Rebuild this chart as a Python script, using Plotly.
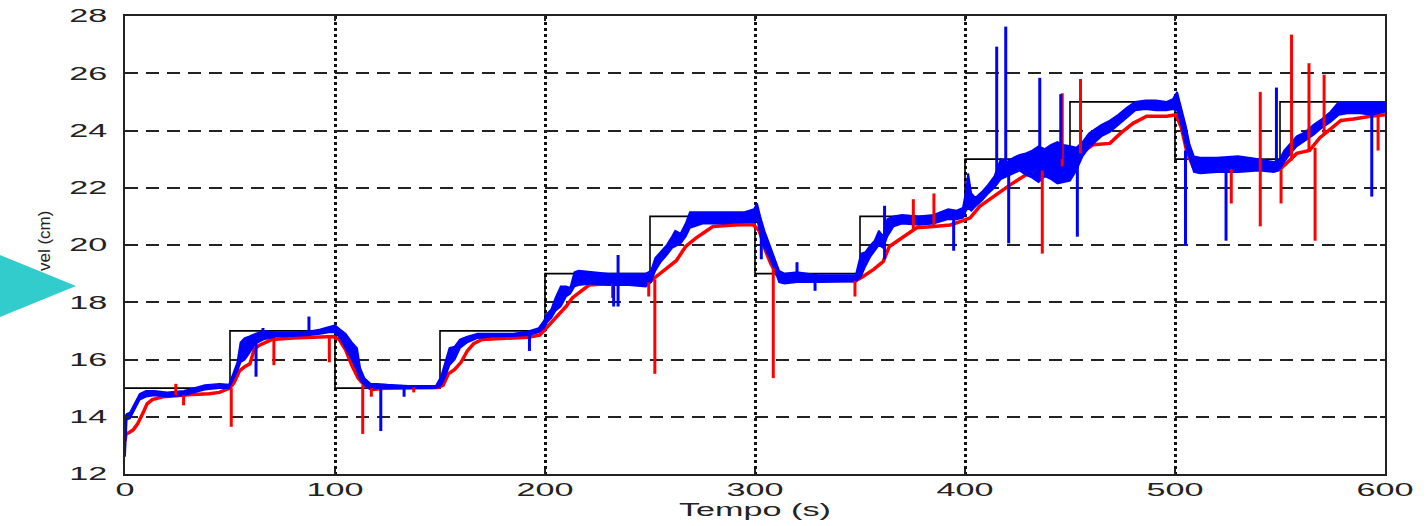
import plotly.graph_objects as go

# ---------------- data ----------------
x_ticks = [0, 100, 200, 300, 400, 500, 600]
y_ticks = [12, 14, 16, 18, 20, 22, 24, 26, 28]

# set-point (reference level, cm)
sp_t = [0, 50, 100, 150, 200, 250, 300, 350, 400, 450, 500, 550, 600]
sp_v = [15, 17, 15, 17, 19, 21, 19, 21, 23, 25, 23, 25, 25]

# red response (centre line)
red_t = [0, 0.5, 2, 4, 6, 7.5, 9, 10.5, 13, 18, 25, 32, 40, 45, 48, 50, 52, 54.5, 57, 59.5,
         61.5, 64, 67, 70, 80, 90, 99, 102, 105, 108, 111, 114, 118, 125, 140, 149, 151.5, 154,
         157, 160, 163, 166, 170, 180, 192, 197.5, 200, 203, 207, 210, 213, 218, 221, 230, 245,
         250, 253, 258, 262.5, 267, 272, 277, 280, 290, 299, 302, 305, 307.5, 310.5, 314, 330,
         348, 351.5, 356.5, 361, 364, 369, 374, 377, 385, 393, 399, 402.5, 407, 413.5, 421.5,
         429, 437, 445, 453, 461, 469, 474, 480, 486.5, 496, 500.5, 503, 505.5, 508.5, 515,
         530, 550, 553, 558, 564, 569, 574, 579, 585, 593, 600]
red_v = [13.15, 13.4, 13.45, 13.55, 13.75, 13.95, 14.2, 14.45, 14.6, 14.7, 14.75, 14.78, 14.8,
         14.85, 14.95, 15.0, 15.2, 15.6, 15.75, 15.85, 16.35, 16.5, 16.6, 16.7, 16.75, 16.78,
         16.8, 16.7, 16.35, 15.8, 15.35, 15.1, 14.95, 15.0, 15.02, 15.02, 15.1, 15.5, 15.65,
         15.9, 16.3, 16.55, 16.7, 16.75, 16.78, 16.85, 17.05, 17.3, 17.6, 17.85, 18.15, 18.45,
         18.6, 18.65, 18.68, 18.72, 18.9, 19.2, 19.45, 19.95, 20.25, 20.5, 20.65, 20.7, 20.72,
         20.5, 19.8, 19.35, 18.95, 18.8, 18.8, 18.75, 18.9, 19.15, 19.42, 19.95, 20.2, 20.45,
         20.6, 20.65, 20.7, 20.85, 20.95, 21.35, 21.7, 22.1, 22.45, 22.6, 22.75, 23.1, 23.5,
         23.55, 23.9, 24.25, 24.5, 24.5, 24.55, 24.1, 23.3, 22.75, 22.65, 22.65, 22.65, 22.85,
         23.2, 23.3, 23.75, 24.05, 24.35, 24.4, 24.5, 24.55]

# red spikes: time, low end, high end
red_spk_t = [24.2, 27.9, 50.6, 70.9, 97.3, 113.2, 117.3, 137.5, 232.2, 249.4, 252.3, 308.7,
             347.6, 375.4, 385.2, 436.8, 446.3, 455, 526.8, 540.6, 550.5, 555.5, 563.8, 566.7,
             571, 596.7]
red_spk_lo = [14.75, 14.4, 13.65, 15.8, 15.9, 13.4, 14.7, 14.85, 18.15, 18.2, 15.5, 15.35,
              18.2, 20.5, 20.65, 19.7, 22.75, 23.2, 21.45, 20.65, 21.45, 22.95, 23.3, 20.15,
              23.9, 23.3]
red_spk_hi = [15.15, 14.75, 15.0, 16.7, 16.8, 15.1, 15.0, 15.02, 18.65, 18.7, 18.8, 19.2,
              18.75, 21.6, 21.8, 22.6, 25.3, 25.8, 22.65, 25.35, 22.65, 27.35, 26.35, 23.4,
              25.95, 24.55]

# blue response: noisy band, lower / upper envelope
blue_t = [0, 0.8, 2.4, 4.8, 7, 10, 14, 20, 28, 33, 38, 45, 49.5, 51.5, 53.5, 55, 57, 59, 62,
          66, 72, 80, 88, 93, 97, 100, 102.4, 105, 108, 110.5, 112, 114, 117, 120, 125, 135,
          148, 150.5, 152.5, 154.5, 157, 159.5, 163, 168, 175, 185, 192, 197, 199.5, 201, 203,
          205, 207.5, 210, 212, 214, 216, 222, 230, 240, 248, 250.5, 252.5, 255, 258, 260.5,
          262, 264.5, 267, 269, 275, 285, 295, 299.5, 301, 302.5, 304.5, 307, 309.5, 311.5,
          314, 320, 330, 340, 348, 350.5, 352.5, 355, 357, 359, 361, 363, 366, 370, 378, 385,
          392, 396, 399, 400.5, 401.5, 403, 405, 408, 411, 414, 417, 420, 423, 426, 429, 432,
          435, 438, 441, 444, 447, 450, 453, 456, 459, 462, 465, 469, 473, 477, 481, 486, 491,
          496, 499, 501, 503, 505, 507, 509, 512, 520, 530, 540, 547, 549.5, 552, 555, 558,
          562, 566, 570, 574, 578, 582, 588, 594, 600]
blue_lo = [12.6, 13.9, 13.95, 14.3, 14.6, 14.7, 14.75, 14.7, 14.75, 14.85, 14.95, 15.0, 15.0,
           15.3, 15.6, 15.9, 16.0, 16.2, 16.55, 16.7, 16.8, 16.82, 16.85, 16.9, 16.95, 16.95,
           16.75, 16.4, 16.0, 15.6, 15.3, 15.1, 14.95, 15.0, 15.0, 15.0, 15.0, 15.1, 15.4, 15.8,
           16.0, 16.4, 16.6, 16.75, 16.8, 16.82, 16.85, 16.95, 17.1, 17.3, 17.45, 17.7, 17.85,
           18.2, 18.3, 18.55, 18.6, 18.65, 18.6, 18.6, 18.55, 18.7, 19.1, 19.4, 19.65, 19.9,
           19.95, 20.05, 20.3, 20.6, 20.75, 20.75, 20.8, 20.8, 20.9, 20.4, 19.9, 19.55, 19.1,
           18.7, 18.65, 18.7, 18.7, 18.7, 18.72, 18.9, 19.25, 19.6, 19.8, 20.0, 19.9, 20.3,
           20.65, 20.75, 20.7, 20.75, 20.9, 20.9, 20.95, 21.2, 21.3, 21.2, 21.35, 21.55, 21.8,
           22.0, 22.3, 22.4, 22.5, 22.6, 22.45, 22.35, 22.2, 22.4, 22.3, 22.15, 22.2, 22.25,
           22.6, 23.1, 23.4, 23.6, 23.8, 23.95, 24.2, 24.45, 24.7, 24.75, 24.7, 24.7, 24.75,
           24.7, 24.2, 23.5, 23.0, 22.55, 22.5, 22.55, 22.55, 22.6, 22.55, 22.6, 22.9, 23.2,
           23.45, 23.65, 23.85, 24.1, 24.3, 24.55, 24.6, 24.6, 24.55, 24.65]
blue_hi = [14.0, 14.1, 14.15, 14.5, 14.8, 14.9, 14.9, 14.85, 14.9, 15.0, 15.1, 15.15, 15.12,
           15.5, 15.9, 16.6, 16.75, 16.8, 16.9, 17.0, 16.95, 16.95, 16.98, 17.05, 17.15, 17.2,
           17.05, 16.9, 16.6, 16.4, 15.7, 15.35, 15.15, 15.15, 15.12, 15.08, 15.08, 15.4, 15.9,
           16.4, 16.45, 16.7, 16.8, 16.9, 16.9, 16.9, 16.98, 17.1, 17.35, 17.6, 17.75, 18.15,
           18.55, 18.55, 18.5, 19.05, 19.1, 19.05, 19.0, 19.0, 19.0, 19.1, 19.55, 19.75, 20.0,
           20.3, 20.5, 20.4, 20.75, 21.15, 21.15, 21.15, 21.15, 21.25, 21.45, 21.0, 20.5, 20.0,
           19.5, 19.1, 19.0, 19.05, 18.95, 18.95, 18.95, 19.7, 19.75, 20.0, 20.15, 20.5, 20.3,
           20.9, 21.0, 21.05, 21.0, 21.05, 21.25, 21.2, 21.3, 21.9, 22.5, 21.8, 21.65, 21.85,
           22.1, 22.4, 23.0, 22.9, 23.05, 23.15, 23.2, 23.3, 23.45, 23.35, 23.5, 23.6, 23.5,
           23.45, 23.4, 23.6, 23.9, 24.05, 24.2, 24.35, 24.55, 24.8, 25.0, 25.05, 25.05, 25.0,
           25.1, 25.35, 24.8, 24.2, 23.5, 23.1, 23.05, 23.05, 23.1, 23.0, 22.9, 22.95, 23.3,
           23.55, 23.8, 23.95, 24.2, 24.4, 24.65, 25.0, 25.0, 25.0, 25.0, 25.0]

# blue spikes: time, low end, high end
blue_spk_t = [62.4, 65.7, 87.6, 121.8, 132.9, 192.6, 232.7, 234.8, 303, 320, 328.6, 361.7,
              394.6, 415.1, 419.4, 420.8, 435.6, 445.6, 453.5, 505, 524.3, 548.3, 593.7]
blue_spk_lo = [15.4, 16.8, 16.9, 13.5, 14.7, 16.3, 17.85, 17.85, 19.5, 18.9, 18.4, 19.5, 19.8,
               22.2, 22.5, 20.06, 22.9, 23.0, 20.29, 20.0, 20.15, 22.7, 21.69]
blue_spk_hi = [16.7, 17.1, 17.5, 15.1, 15.05, 16.95, 18.8, 19.65, 20.7, 19.4, 18.85, 21.37,
               21.0, 26.93, 27.63, 22.6, 25.84, 25.27, 23.0, 23.3, 22.8, 25.5, 24.8]

# ---------------- figure ----------------
W, H = 1428, 526
PL, PR, PT, PB = 125, 1385, 16, 474          # plot area in pixels


def spikes(ts, lo, hi):
    xs, ys = [], []
    for t, a, b in zip(ts, lo, hi):
        xs += [t, t, None]
        ys += [a, b, None]
    return xs, ys


fig = go.Figure()
fig.add_trace(go.Scatter(x=sp_t, y=sp_v, mode="lines", line=dict(color="black", width=1.6, shape="hv"),
                         hoverinfo="skip"))
fig.add_trace(go.Scatter(x=red_t, y=red_v, mode="lines", line=dict(color="#ff0000", width=3.5),
                         hoverinfo="skip"))
fig.add_trace(go.Scatter(x=blue_t, y=blue_lo, mode="lines", line=dict(color="#0000ff", width=1.8),
                         hoverinfo="skip"))
fig.add_trace(go.Scatter(x=blue_t, y=blue_hi, mode="lines", line=dict(color="#0000ff", width=1.8),
                         fill="tonexty", fillcolor="#0000ff", hoverinfo="skip"))
rx, ry = spikes(red_spk_t, red_spk_lo, red_spk_hi)
fig.add_trace(go.Scatter(x=rx, y=ry, mode="lines", line=dict(color="#ff0000", width=3),
                         hoverinfo="skip"))
bx, by = spikes(blue_spk_t, blue_spk_lo, blue_spk_hi)
fig.add_trace(go.Scatter(x=bx, y=by, mode="lines", line=dict(color="#0000ff", width=3),
                         hoverinfo="skip"))

tick_font = dict(family="Liberation Sans, Arial, sans-serif", size=18, color="#222")

fig.update_layout(
    width=W, height=H,
    margin=dict(l=PL, r=W - PR, t=PT, b=H - PB, autoexpand=False),
    paper_bgcolor="white", plot_bgcolor="white",
    showlegend=False,
    font=tick_font,
    xaxis=dict(range=[0, 600], tickvals=x_ticks, ticktext=[str(v) for v in x_ticks],
               ticks="inside", ticklen=5, tickwidth=1.5, tickcolor="#222",
               showline=True, linecolor="#222", linewidth=2, mirror="allticks",
               showgrid=True, gridcolor="#111", gridwidth=3, griddash="dot",
               zeroline=False, tickfont=tick_font, ticklabelstandoff=-2,
               title=dict(text="Tempo (s)", font=tick_font, standoff=0)),
    yaxis=dict(range=[12, 28], tickvals=y_ticks, ticktext=[str(v) for v in y_ticks],
               ticks="inside", ticklen=5, tickwidth=1.5, tickcolor="#222",
               showline=True, linecolor="#222", linewidth=2, mirror="allticks",
               showgrid=True, gridcolor="#222", gridwidth=1.6, griddash="13px,8px",
               zeroline=False, tickfont=tick_font, ticklabelstandoff=12),
)


def px_to_paper(px, py):
    return (px - PL) / (PR - PL), (PB - py) / (PB - PT)


# y label (partly hidden by the teal marker in the original)
lx, ly = px_to_paper(44, 241)
fig.add_annotation(x=lx, y=ly, xref="paper", yref="paper", text="vel (cm)", textangle=-90,
                   showarrow=False, font=dict(family="Liberation Sans, Arial, sans-serif", size=17,
                                              color="#222"), xanchor="center", yanchor="middle")

# teal triangle marker on the left edge
tri = [px_to_paper(0, 255), px_to_paper(76, 286), px_to_paper(0, 317)]
path = "M {} {} L {} {} L {} {} Z".format(tri[0][0], tri[0][1], tri[1][0], tri[1][1], tri[2][0], tri[2][1])
fig.add_shape(type="path", path=path, xref="paper", yref="paper", fillcolor="#33cccc",
              line=dict(width=0), layer="above")

post = """
var gd = document.getElementById('{plot_id}');
var sel = gd.querySelectorAll('.xtick text, .ytick text, .g-xtitle text');
sel.forEach(function(t){
  var x = parseFloat(t.getAttribute('x')) || 0;
  var tr = t.getAttribute('transform') || '';
  t.setAttribute('transform', tr + ' translate(' + x + ',0) scale(1.9,1) translate(' + (-x) + ',0)');
});
"""

fig.write_html("out.html", post_script=post)
